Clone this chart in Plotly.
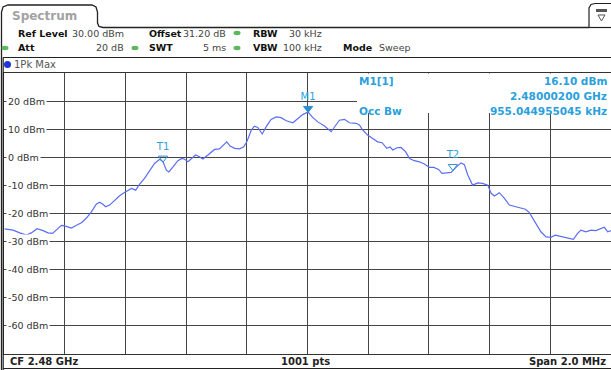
import plotly.graph_objects as go

# ---------------- data ----------------
freq_khz = [-998, -970, -948, -926, -910, -891, -871, -855, -840, -827, -811, -800, -789, -778,
            -761, -745, -729, -712, -696, -685, -674, -665, -652, -635, -619, -603, -592, -580,
            -566, -553, -537, -520, -504, -487, -476, -465, -457, -443, -427, -414, -405, -394,
            -383, -369, -356, -345, -328, -306, -290, -277, -266, -255, -240, -224, -210, -200,
            -185, -175, -164, -149, -136, -120, -103, -87, -70, -48, -32, -16, 2, 17, 34, 56,
            78, 89, 105, 122, 138, 160, 171, 182, 198, 215, 231, 246, 261, 272, 281, 295, 308,
            323, 336, 352, 369, 385, 402, 416, 432, 443, 457, 473, 489, 506, 517, 528, 544, 561,
            577, 594, 605, 616, 632, 649, 665, 681, 698, 718, 731, 742, 753, 769, 786, 802, 816,
            830, 846, 862, 876, 890, 901, 917, 934, 950, 967, 978, 989, 1000]
level_dbm = [-25.5, -25.9, -26.9, -27.7, -26.9, -25.4, -26.1, -26.9, -27.1, -25.9, -24.2, -24.4,
             -24.9, -25.2, -24.2, -23.3, -21.7, -19.4, -16.7, -16.0, -16.7, -17.6, -17.0, -15.2,
             -13.7, -12.5, -11.9, -11.1, -11.7, -9.5, -7.5, -4.6, -2.2, -0.7, -1.6, -4.6, -5.2,
             -3.4, -1.2, -0.4, -0.7, -1.6, -0.4, 0.8, 0.2, -0.6, 0.8, 2.8, 3.0, 4.3, 5.5, 4.0,
             3.2, 3.0, 3.7, 5.5, 9.7, 11.1, 10.6, 8.3, 10.9, 13.5, 14.4, 14.1, 13.0, 12.3, 13.8,
             15.2, 16.1, 14.2, 12.6, 11.1, 9.1, 10.9, 13.2, 13.5, 12.3, 12.1, 11.5, 9.7, 7.9,
             6.7, 5.5, 5.2, 3.2, 3.7, 2.6, 3.4, 3.5, 2.0, -0.4, -1.2, -1.6, -2.4, -3.6, -3.6,
             -4.3, -5.7, -5.5, -5.4, -3.6, -2.0, -2.6, -6.3, -9.9, -9.1, -9.3, -9.9, -12.8,
             -13.8, -12.6, -14.6, -17.0, -17.4, -17.8, -18.5, -19.7, -21.7, -24.1, -26.5, -28.3,
             -28.5, -27.7, -28.1, -28.5, -28.9, -29.2, -27.1, -25.9, -26.5, -25.9, -26.1, -25.3,
             -24.9, -26.5, -26.1]

marker_names = ["M1", "T1", "T2"]
marker_freq_khz = [2, -476, 479]
marker_level_dbm = [16.10, -1.6, -4.6]
marker_symbols = ["triangle-down", "triangle-down-open", "triangle-down-open"]

y_tick_vals = [20, 10, 0, -10, -20, -30, -40, -50, -60]
y_tick_labels = ["20 dBm", "10 dBm", "0 dBm", "-10 dBm", "-20 dBm", "-30 dBm",
                 "-40 dBm", "-50 dBm", "-60 dBm"]

header_row1 = [("Ref Level", True, 16, "left"), ("30.00 dBm", False, 126, "right"),
               ("Offset", True, 147, "left"), ("31.20 dB", False, 228, "right"),
               ("RBW", True, 251, "left"), ("30 kHz", False, 324, "right")]
header_row2 = [("Att", True, 16, "left"), ("20 dB", False, 126, "right"),
               ("SWT", True, 147, "left"), ("5 ms", False, 228, "right"),
               ("VBW", True, 251, "left"), ("100 kHz", False, 324, "right"),
               ("Mode", True, 341, "left"), ("Sweep", False, 377, "left")]
marker_info = [("M1[1]", 357, "left", 81), ("16.10 dBm", 609, "right", 81),
               ("2.48000200 GHz", 609, "right", 96), ("Occ Bw", 357, "left", 111),
               ("955.044955045 kHz", 609, "right", 111)]
footer = [("CF 2.48 GHz", 8, "left"), ("1001 pts", 305, "center"), ("Span 2.0 MHz", 608, "right")]

# ---------------- geometry helpers ----------------
W_PX, H_PX = 611, 370
L, R, T, B = 4, 0, 73, 16
PW = W_PX - L - R
PH = H_PX - T - B


def X(px):
    return (px - L) / PW


def Y(py):
    return (T + PH - py) / PH


def path(points, close=False):
    s = "M " + " L ".join(f"{X(a):.5f},{Y(b):.5f}" for a, b in points)
    return s + (" Z" if close else "")


FONT = "DejaVu Sans"
BLUE_TXT = "#2a9fdc"
GRID = "#454545"
TRACE = "#5a6ef2"

fig = go.Figure()

fig.add_trace(go.Scatter(x=freq_khz, y=level_dbm, mode="lines",
                         line=dict(color=TRACE, width=1.2), hoverinfo="skip", showlegend=False))

MARKER_OFFSET_DB = 1.3
fig.add_trace(go.Scatter(
    x=marker_freq_khz, y=[v + MARKER_OFFSET_DB for v in marker_level_dbm],
    mode="markers+text", text=marker_names, textposition="top center",
    textfont=dict(family=FONT, size=10, color=BLUE_TXT),
    marker=dict(symbol=marker_symbols, size=8, color="#2a8fd0",
                line=dict(color="#2a8fd0", width=1)),
    showlegend=False, hoverinfo="skip"))

shapes = []
# white box for marker info (covers grid)
shapes.append(dict(type="rect", xref="paper", yref="paper", x0=X(357), x1=X(612), y0=Y(113), y1=Y(73.5),
                   fillcolor="white", line=dict(width=0), layer="above"))
# tab + outer frame
shapes.append(dict(type="path", xref="paper", yref="paper",
                   path=path([(1.5, 370), (1.5, 12), (3, 7), (8, 5), (92, 5), (96, 7), (97.5, 12),
                              (97.5, 23), (99, 26.5), (103, 27.5), (589, 27.5)]),
                   line=dict(color="#222", width=1.3)))
# right icon box
shapes.append(dict(type="path", xref="paper", yref="paper",
                   path=path([(589, 27.5), (589, 8), (591, 4.5), (595, 3.5), (612, 3.5)]),
                   line=dict(color="#222", width=1.2)))
shapes.append(dict(type="rect", xref="paper", yref="paper", x0=X(596), x1=X(607), y0=Y(12), y1=Y(9),
                   fillcolor="#555", line=dict(width=0)))
shapes.append(dict(type="path", xref="paper", yref="paper",
                   path=path([(598, 15), (605, 15), (601.5, 21)], close=True),
                   line=dict(color="#555", width=1)))
shapes.append(dict(type="line", xref="paper", yref="paper", x0=X(589), x1=X(612), y0=Y(27.5), y1=Y(27.5),
                   line=dict(color="#222", width=1.2)))
# left border of trace panel
shapes.append(dict(type="line", xref="paper", yref="paper", x0=X(3.2), x1=X(3.2), y0=Y(57.5), y1=Y(370),
                   line=dict(color="#222", width=1.2)))
# trace panel top line
shapes.append(dict(type="line", xref="paper", yref="paper", x0=X(3), x1=X(612), y0=Y(57.5), y1=Y(57.5),
                   line=dict(color="#222", width=1.2)))
# bottom panel line
shapes.append(dict(type="line", xref="paper", yref="paper", x0=X(3), x1=X(612), y0=Y(368.5), y1=Y(368.5),
                   line=dict(color="#222", width=1.2)))
# green status dots
for cx, cy in [(237, 48), (237, 33), (135, 48), (5, 48)]:
    shapes.append(dict(type="circle", xref="paper", yref="paper", x0=X(cx - 3.5), x1=X(cx + 3.5),
                       y0=Y(cy + 2.2), y1=Y(cy - 2.2), fillcolor="#5cb85c", line=dict(width=0)))
# blue trace dot
shapes.append(dict(type="circle", xref="paper", yref="paper", x0=X(4), x1=X(11),
                   y0=Y(68), y1=Y(61), fillcolor="#1f35d6", line=dict(width=0)))

annotations = []
annotations.append(dict(text="<b>Spectrum</b>", x=X(10), y=Y(16), xref="paper", yref="paper",
                        xanchor="left", yanchor="middle", showarrow=False,
                        font=dict(family=FONT, size=12, color="#a2a2a2")))
for row, py in [(header_row1, 33), (header_row2, 48)]:
    for txt, bold, px, anc in row:
        annotations.append(dict(text=f"<b>{txt}</b>" if bold else txt, x=X(px), y=Y(py),
                                xref="paper", yref="paper", xanchor=anc, yanchor="middle",
                                showarrow=False,
                                font=dict(family=FONT, size=9.5, color="#111" if bold else "#444")))
annotations.append(dict(text="1Pk Max", x=X(12), y=Y(64.5), xref="paper", yref="paper",
                        xanchor="left", yanchor="middle", showarrow=False,
                        font=dict(family=FONT, size=10, color="#555")))
for txt, px, anc, py in marker_info:
    annotations.append(dict(text=f"<b>{txt}</b>", x=X(px), y=Y(py), xref="paper", yref="paper",
                            xanchor=anc, yanchor="middle", showarrow=False,
                            font=dict(family=FONT, size=10.5, color=BLUE_TXT)))
for v, lab in zip(y_tick_vals, y_tick_labels):
    annotations.append(dict(text=lab, x=X(6), y=v, xref="paper", yref="y",
                            xanchor="left", yanchor="middle", showarrow=False,
                            bgcolor="white", borderpad=1,
                            font=dict(family=FONT, size=9.5, color="#333")))
for txt, px, anc in footer:
    annotations.append(dict(text=f"<b>{txt}</b>", x=X(px), y=Y(361.5), xref="paper", yref="paper",
                            xanchor=anc, yanchor="middle", showarrow=False,
                            font=dict(family=FONT, size=10, color="#222")))

fig.update_layout(
    width=W_PX, height=H_PX,
    margin=dict(l=L, r=R, t=T, b=B, pad=0),
    paper_bgcolor="white", plot_bgcolor="white",
    showlegend=False,
    xaxis=dict(range=[-1000, 1000], dtick=200, tick0=-1000, showticklabels=False, ticks="",
               showgrid=True, gridcolor=GRID, gridwidth=1, zeroline=False,
               showline=True, linecolor="#333", linewidth=1, mirror=True, fixedrange=True),
    yaxis=dict(range=[-70, 30], dtick=10, tick0=-70, showticklabels=False, ticks="",
               showgrid=True, gridcolor=GRID, gridwidth=1, zeroline=False,
               showline=True, linecolor="#333", linewidth=1, mirror=True, fixedrange=True),
    shapes=shapes, annotations=annotations,
)

fig.write_html("out.html", config={"displayModeBar": False},
               post_script="document.body.style.margin='0';document.body.style.overflow='hidden';")
